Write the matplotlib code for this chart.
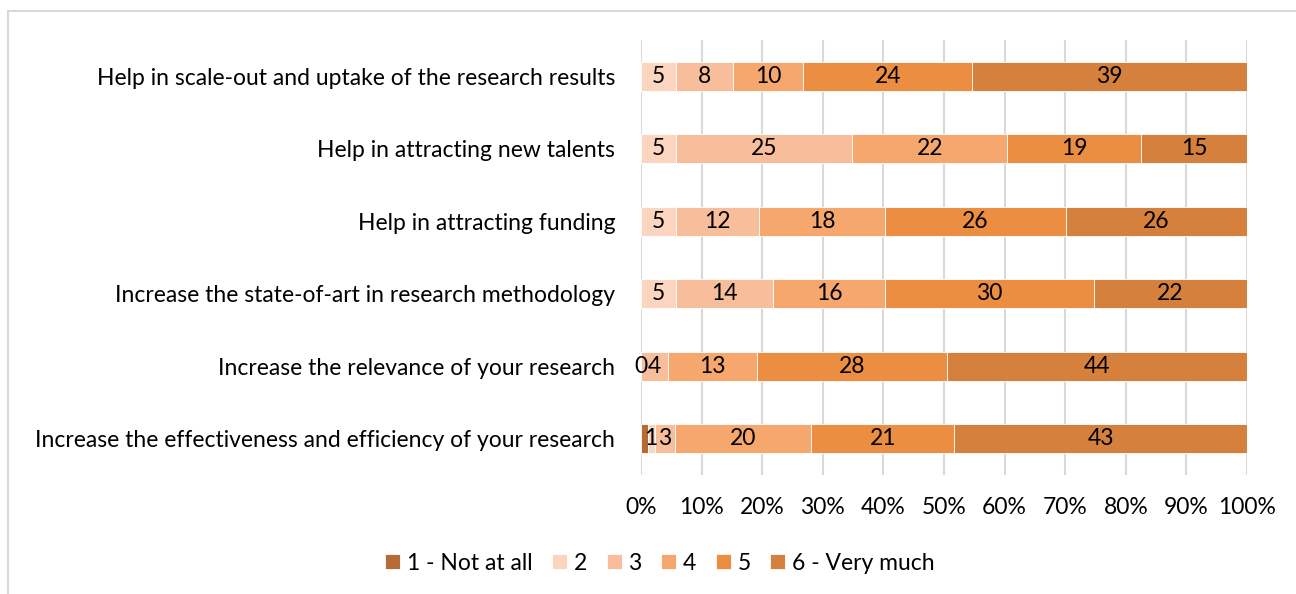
import matplotlib

matplotlib.use("Agg")
import matplotlib.pyplot as plt
import numpy as np
from matplotlib.patches import Rectangle

plt.rcParams["font.family"] = ["Lato", "DejaVu Sans"]

# questions, top to bottom
QUESTIONS = [
    "Help in scale-out and uptake of the research results",
    "Help in attracting new talents",
    "Help in attracting funding",
    "Increase the state-of-art in research methodology",
    "Increase the relevance of your research",
    "Increase the effectiveness and efficiency of your research",
]
CATEGORIES = ["1 - Not at all", "2", "3", "4", "5", "6 - Very much"]

# counts per category (columns) for each question (rows)
not_at_all = [0, 0, 0, 0, 0, 1]
score_2 = [5, 5, 5, 5, 0, 1]
score_3 = [8, 25, 12, 14, 4, 3]
score_4 = [10, 22, 18, 16, 13, 20]
score_5 = [24, 19, 26, 30, 28, 21]
very_much = [39, 15, 26, 22, 44, 43]

COLORS = ["#B46B34", "#FBD5C0", "#F8BD9A", "#F5A76E", "#EC8E42", "#D5803C"]
SHOW_LABEL = [False, True, True, True, True, True]
FS = 16.5


def main() -> None:
    counts = np.array([not_at_all, score_2, score_3, score_4, score_5, very_much], dtype=float)
    totals = counts.sum(axis=0)
    shares = counts / totals

    fig = plt.figure(figsize=(12.96, 5.94), dpi=100)
    ax = fig.add_axes([641 / 1296, 1 - 475 / 594, 606 / 1296, 435 / 594])

    y = np.arange(len(QUESTIONS))[::-1]
    left = np.zeros(len(QUESTIONS))
    for k, (cat, col) in enumerate(zip(CATEGORIES, COLORS)):
        bars = ax.barh(y, shares[k], 0.4, left=left, color=col, edgecolor="white",
                       linewidth=0.6, label=cat, zorder=2)
        if SHOW_LABEL[k]:
            for b, c, l, s in zip(bars, counts[k], left, shares[k]):
                ax.text(l + s / 2, b.get_y() + b.get_height() / 2, f"{int(c)}",
                        ha="center", va="center", fontsize=FS, color="black", zorder=3)
        left = left + shares[k]

    ax.set_xlim(0, 1)
    ax.set_ylim(-0.5, len(QUESTIONS) - 0.5)
    ax.set_yticks(y)
    ax.set_yticklabels(QUESTIONS, fontsize=FS)
    ax.set_xticks(np.linspace(0, 1, 11))
    ax.set_xticklabels([f"{int(v)}%" for v in np.linspace(0, 100, 11)], fontsize=FS)
    ax.tick_params(axis="both", length=0)
    ax.tick_params(axis="y", pad=18.5)
    ax.tick_params(axis="x", pad=16)
    for sp in ax.spines.values():
        sp.set_visible(False)
    ax.grid(axis="x", color="#D9D9D9", linewidth=1.5, zorder=0)

    handles, labels = ax.get_legend_handles_labels()
    fig.legend(handles, labels, loc="center", bbox_to_anchor=(660 / 1296, 1 - 563 / 594),
               ncol=6, frameon=False, fontsize=FS, handlelength=0.65, handleheight=0.65,
               handletextpad=0.3, columnspacing=0.85)

    # chart border (only top and left visible in frame)
    fig.patches.append(Rectangle((8 / 1296, -0.1), 1.2, 1 - 11 / 594 + 0.1,
                                 transform=fig.transFigure, fill=False,
                                 edgecolor="#D9D9D9", linewidth=1.5))

    fig.savefig("out.png", dpi=100)
    plt.close(fig)


if __name__ == "__main__":
    main()
